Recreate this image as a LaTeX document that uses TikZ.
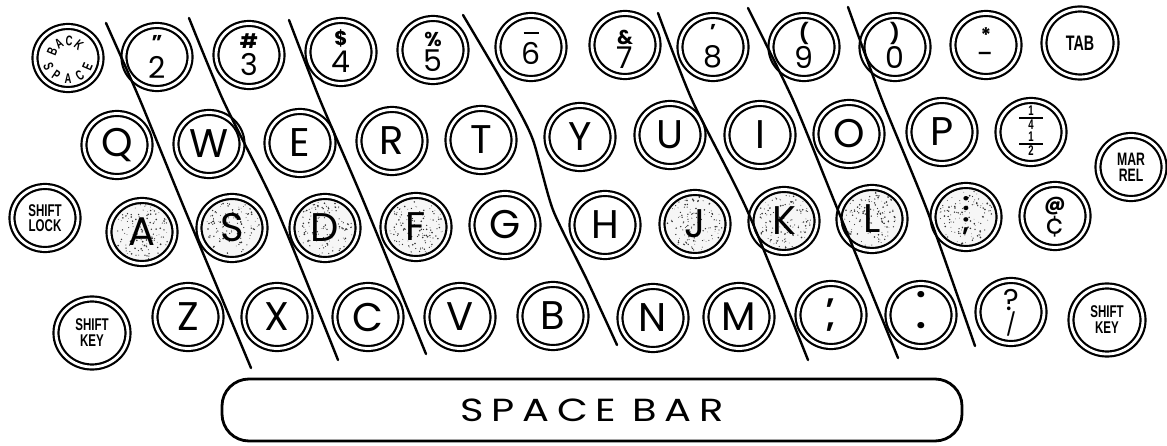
\documentclass[tikz,border=0pt]{standalone}
\usepackage{fontspec}
\usepackage{graphicx}
\setmainfont{Poppins}
\newfontfamily\labfont{Liberation Sans}[FakeStretch=0.68]
\newfontfamily\barfont{Poppins}[FakeStretch=1.25,LetterSpace=24]
\usetikzlibrary{shapes.geometric}

\newcommand\stipple[2]{%
  \fill[gray!7] (#1,#2) ellipse [x radius=29.5pt, y radius=28pt];
  \foreach \ii in {1,...,120}{%
    \pgfmathsetmacro\sr{27.5*sqrt(rnd)}%
    \pgfmathsetmacro\sa{360*rnd}%
    \pgfmathsetmacro\sz{0.3+0.65*rnd}%
    \fill[black!80, shift={(#1,#2)}] (\sa:\sr pt) circle [radius=\sz pt];}}

\newcommand\twokey[7]{% name x y top bottom topshift botshift
  \node[ring] (#1) at (#2,#3) {};
  \node[symtxt] (#1-t) at ([yshift=#6]#1.center) {#4};
  \node[digtxt] (#1-b) at ([yshift=#7]#1.center) {#5};}

\begin{document}
\begin{tikzpicture}[x=1pt,y=-1pt,
  ring/.style={ellipse, draw, double, double distance=2.8pt, line width=2.2pt,
    inner sep=0pt, minimum width=66pt, minimum height=63pt},
  bigring/.style={ring, minimum width=72pt, minimum height=68pt},
  letter/.style={font=\fontsize{40}{40}\selectfont},
  symtxt/.style={inner sep=0pt, font=\bfseries\fontsize{20}{20}\selectfont},
  digtxt/.style={inner sep=0pt, font=\fontsize{30}{30}\selectfont},
  labtxt/.style={align=center, font=\labfont\bfseries\fontsize{18}{16}\selectfont},
  bstxt/.style={inner sep=0pt, font=\labfont\bfseries\fontsize{14}{14}\selectfont},
  fractxt/.style={inner sep=0pt, font=\labfont\bfseries\fontsize{14}{14}\selectfont},
  punct/.style={inner sep=0pt, font=\bfseries\fontsize{30}{30}\selectfont},
  zone/.style={line width=2.4pt, line cap=round, line join=round},
]
\pgfmathsetseed{7}
\useasboundingbox (0,0) rectangle (1167,446);

% ---------- row 1 ----------
\node[ring] (bs) at (68,58) {};
\foreach \ch/\an [count=\i] in {B/158,A/122,C/86,K/50}
  \node[bstxt, rotate=\an-90] (bst\i) at ([shift={(\an:17pt)}]bs.center) {\ch};
\foreach \ch/\an [count=\i] in {S/203,P/236,A/270,C/304,E/337}
  \node[bstxt, rotate=\an+90] (bsb\i) at ([shift={(\an:21pt)}]bs.center) {\ch};

\twokey{k2}{157}{57}{"}{2}{15pt}{-10pt}
\twokey{k3}{249}{55}{\#}{3}{14pt}{-10pt}
\twokey{k4}{341}{52}{\$}{4}{14pt}{-10pt}
\twokey{k5}{433}{50}{\%}{5}{11pt}{-11pt}
\node[ring] (k6) at (531,47) {};
\node[digtxt] (k6-b) at ([yshift=-6pt]k6.center) {6};
\draw[line width=2.6pt] ([xshift=-7.5pt,yshift=14pt]k6.center) -- ([xshift=7.5pt,yshift=14pt]k6.center);
\twokey{k7}{625}{45}{\&}{7}{8pt}{-13pt}
\twokey{k8}{713}{47}{'}{8}{16pt}{-10pt}
\twokey{k9}{804}{47}{(}{9}{14pt}{-10pt}
\twokey{k0}{895}{47}{)}{0}{14pt}{-10pt}
\twokey{kst}{986}{45}{*}{-}{10pt}{-13pt}
\node[bigring, labtxt, font=\labfont\bfseries\fontsize{21}{21}\selectfont] (tab) at (1080,43) {TAB};

% ---------- row 2 ----------
\foreach \nm/\x/\y/\ch in {q/117/145/Q, w/209/144/W, e/300/143/E, r/392/141/R,
  t/481/140/T, y/580/137/Y, u/670/135/U, i/760/135/I, o/849/134/O, p/942/132/P}
  \node[ring, letter] (\nm) at (\x,\y) {\ch};
\node[ring] (fr) at (1031,132) {};
\node[fractxt] (fr-a) at ([yshift=21pt]fr.center) {1};
\draw[line width=2pt] ([xshift=-12pt,yshift=14pt]fr.center) -- ([xshift=12pt,yshift=14pt]fr.center);
\node[fractxt] (fr-b) at ([yshift=7pt]fr.center) {4};
\node[fractxt] (fr-c) at ([yshift=-5pt]fr.center) {1};
\draw[line width=2pt] ([xshift=-12pt,yshift=-12pt]fr.center) -- ([xshift=12pt,yshift=-12pt]fr.center);
\node[fractxt] (fr-d) at ([yshift=-19pt]fr.center) {2};
\node[ring, labtxt] (mr) at (1131,167) {MAR\\REL};

% ---------- row 3 ----------
\node[ring, labtxt, font=\labfont\bfseries\fontsize{17}{15}\selectfont] (sl) at (45,218) {SHIFT\\LOCK};
\foreach \x/\y in {142/232, 232/228, 325/228, 416/227, 695/224, 784/221, 872/219, 966/217}
  {\stipple{\x}{\y}}
\foreach \nm/\x/\y/\ch in {a/142/232/A, s/232/228/S, d/325/228/D, f/416/227/F,
  g/505/225/G, h/605/225/H, j/695/224/J, k/784/221/K, l/872/219/L}
  \node[ring, letter] (\nm) at (\x,\y) {\ch};
\node[ring] (sc) at (966,217) {};
\node[punct, font=\bfseries\fontsize{24}{24}\selectfont] (sc-t) at ([yshift=13pt]sc.center) {:};
\node[punct, font=\bfseries\fontsize{24}{24}\selectfont] (sc-b) at ([yshift=-9pt]sc.center) {;};
\twokey{at}{1055}{216}{@}{¢}{10pt}{-11pt}

% ---------- row 4 ----------
\node[bigring, labtxt, font=\labfont\bfseries\fontsize{17}{16}\selectfont] (skl) at (92,333) {SHIFT\\KEY};
\foreach \nm/\x/\y/\ch in {z/188/317/Z, x/277/317/X, c/368/317/C, v/460/317/V,
  b/553/316/B, n/653/318/N, m/739/317/M}
  \node[ring, letter] (\nm) at (\x,\y) {\ch};
\node[ring] (cm) at (831,315) {};
\node[punct] (cm-t) at ([yshift=12pt]cm.center) {,};
\node[punct] (cm-b) at ([yshift=-12pt]cm.center) {,};
\node[ring] (pd) at (921,315) {};
\node[punct, font=\bfseries\fontsize{34}{34}\selectfont] (pd-t) at ([yshift=20pt]pd.center) {.};
\node[punct, font=\bfseries\fontsize{34}{34}\selectfont] (pd-b) at ([yshift=-11pt]pd.center) {.};
\node[ring] (qs) at (1011,312) {};
\node[inner sep=0pt, font=\fontsize{30}{30}\selectfont] (qs-t) at ([yshift=12pt]qs.center) {?};
\node[inner sep=0pt, font=\fontsize{22}{22}\selectfont] (qs-b) at ([yshift=-12pt]qs.center) {/};
\node[bigring, labtxt, font=\labfont\bfseries\fontsize{17}{16}\selectfont] (skr) at (1107,320) {SHIFT\\KEY};

% ---------- space bar ----------
\node[draw, line width=2.8pt, rounded corners=27pt, minimum width=740pt, minimum height=62pt,
  font=\barfont\fontsize{32}{32}\selectfont] (sb) at (592,410) {SPACE\hspace{16pt}BAR};

% ---------- finger zone lines ----------
\draw[zone] plot[smooth, tension=0.4] coordinates {(106,23) (140,100) (185,210) (251,368)};
\draw[zone] plot[smooth, tension=0.4] coordinates {(189,18) (223,100) (277,210) (338,360)};
\draw[zone] plot[smooth, tension=0.4] coordinates {(289,20) (320,100) (363,200) (426,354)};
\draw[zone] plot[smooth, tension=0.4] coordinates {(463,15) (513,100) (533,140) (553,210) (587,280) (617,345)};
\draw[zone] plot[smooth, tension=0.4] coordinates {(658,13) (692,100) (747,210) (808,360)};
\draw[zone] plot[smooth, tension=0.4] coordinates {(748,8) (793,100) (835,203) (898,358)};
\draw[zone] plot[smooth, tension=0.4] coordinates {(848,7) (882,100) (927,210) (975,346)};
\end{tikzpicture}
\end{document}
